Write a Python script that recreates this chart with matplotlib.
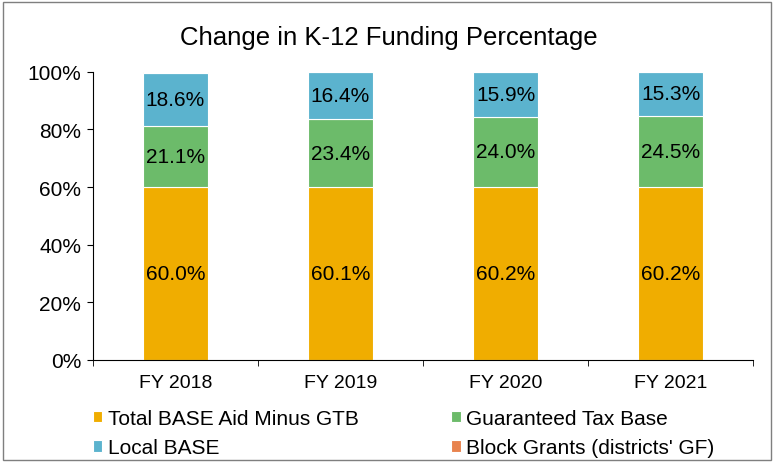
import matplotlib
matplotlib.use('Agg')
import matplotlib.pyplot as plt
from matplotlib.patches import Rectangle
import numpy as np

plt.rcParams['font.family'] = ['Liberation Sans', 'DejaVu Sans']

years = ['FY 2018', 'FY 2019', 'FY 2020', 'FY 2021']
base_aid = [60.0, 60.1, 60.2, 60.2]
gtb = [21.1, 23.4, 24.0, 24.5]
local_base = [18.6, 16.4, 15.9, 15.3]
block_grants = [0.3, 0.1, 0.0, 0.0]

series = [
    ('Total BASE Aid Minus GTB', base_aid, '#F0AD00'),
    ('Guaranteed Tax Base', gtb, '#6CBB6A'),
    ('Local BASE', local_base, '#5BB3CE'),
    ("Block Grants (districts' GF)", block_grants, '#E8834E'),
]

fig = plt.figure(figsize=(7.74, 4.64), dpi=100)
ax = fig.add_axes([0.120, 0.222, 0.853, 0.621])

x = np.arange(len(years))
bottom = np.zeros(len(years))
for name, vals, col in series:
    vals = np.array(vals)
    ax.bar(x, vals, 0.394, bottom=bottom, color=col, edgecolor='white',
           linewidth=0.8, label=name)
    if name != "Block Grants (districts' GF)":
        for xi, b, v in zip(x, bottom, vals):
            ax.text(xi, b + v / 2, f'{v:.1f}%', ha='center', va='center', fontsize=15)
    bottom += vals

ax.set_xlim(-0.5, 3.5)
ax.set_ylim(0, 100)
ax.set_xticks(x)
ax.set_xticklabels(years, fontsize=14)
ax.set_xticks(np.arange(-0.5, 4.0, 1.0), minor=True)
ax.set_yticks(range(0, 101, 20))
ax.set_yticklabels([f'{v}%' for v in range(0, 101, 20)], fontsize=15)
for s in ['top', 'right']:
    ax.spines[s].set_visible(False)
for s in ['left', 'bottom']:
    ax.spines[s].set_color('black')
ax.tick_params(axis='x', which='major', length=0, pad=10)
ax.tick_params(axis='x', which='minor', length=4.5, color='black')
ax.tick_params(axis='y', length=4.5, color='black', pad=4)

fig.text(0.502, 0.918, 'Change in K-12 Funding Percentage', ha='center', va='center', fontsize=18.5)

handles, labels = ax.get_legend_handles_labels()
order = [0, 2, 1, 3]
fig.legend([handles[i] for i in order], [labels[i] for i in order],
           loc='upper left', bbox_to_anchor=(93 / 774, 1 - 410 / 464), ncol=2, frameon=False,
           fontsize=15, handlelength=0.45, handleheight=0.45, handletextpad=0.25,
           columnspacing=4.45, labelspacing=0.5, borderpad=0, borderaxespad=0)

fig.patches.append(Rectangle((0.004, 0.006), 0.992, 0.988, transform=fig.transFigure,
                             fill=False, edgecolor='#7f7f7f', linewidth=1))

fig.savefig('out.png', dpi=100)
